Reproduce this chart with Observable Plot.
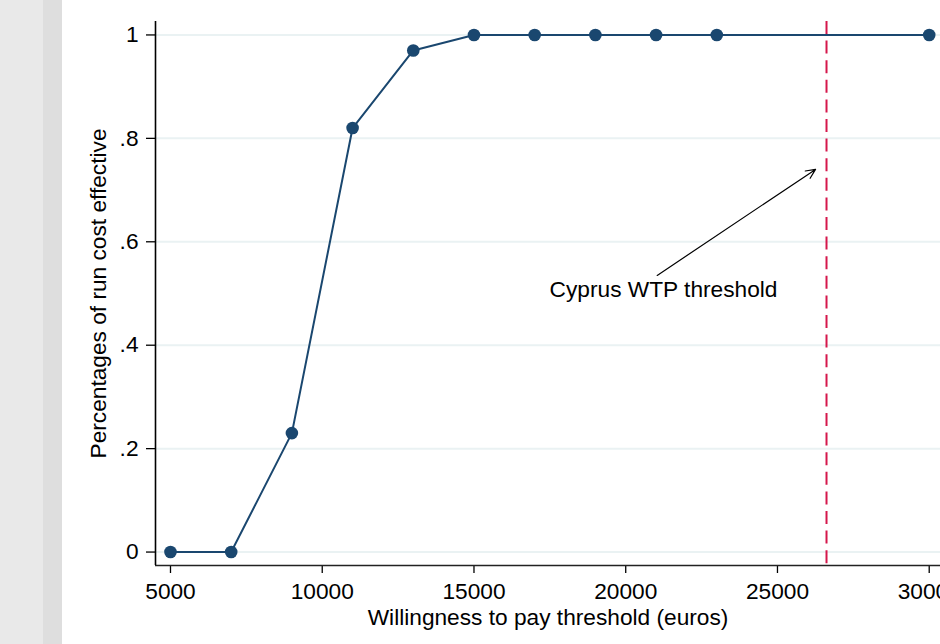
<!DOCTYPE html>
<html>
<head>
<meta charset="utf-8">
<script src="https://cdn.jsdelivr.net/npm/d3@7"></script>
<script src="https://cdn.jsdelivr.net/npm/@observablehq/plot@0.6"></script>
<style>
  html, body { margin: 0; padding: 0; overflow: hidden; }
  body {
    width: 940px; height: 644px;
    background: linear-gradient(to right, #e9e9e9 0px, #e9e9e9 43px, #dedede 43px, #dedede 62px, #ffffff 62px);
  }
  #chart svg { display: block; }
</style>
</head>
<body>
<div id="chart"></div>
<script>
// ---- data ----
const wtp = [5000, 7000, 9000, 11000, 13000, 15000, 17000, 19000, 21000, 23000, 30000];
const pctCostEffective = [0, 0, 0.23, 0.82, 0.97, 1, 1, 1, 1, 1, 1];
const xTicks = [5000, 10000, 15000, 20000, 25000, 30000];
const yTicks = [0, 0.2, 0.4, 0.6, 0.8, 1];
const yTickLabels = ["0", ".2", ".4", ".6", ".8", "1"];
const cyprusThreshold = [26616];
const annotationLabel = ["Cyprus WTP threshold"];
const annotationLabelX = [21245];
const annotationLabelY = [0.508];
const arrowStartX = [21037];
const arrowStartY = [0.535];
const arrowEndX = [26254];
const arrowEndY = [0.740];
const xTitle = "Willingness to pay threshold (euros)";
const yTitle = "Percentages of run cost effective";

const points = wtp.map((x, i) => ({x, y: pctCostEffective[i]}));
const arrows = arrowStartX.map((x1, i) => ({x1, y1: arrowStartY[i], x2: arrowEndX[i], y2: arrowEndY[i]}));
const labels = annotationLabel.map((t, i) => ({t, x: annotationLabelX[i], y: annotationLabelY[i]}));

const xDomain = [4506, 30372];
const yDomain = [-0.026, 1.026];
const navy = "#1a476f";

const chart = Plot.plot({
  width: 940,
  height: 644,
  marginTop: 21,
  marginBottom: 79,
  marginLeft: 155,
  marginRight: 0,
  style: {
    fontFamily: "'Liberation Sans', Arial, Helvetica, sans-serif",
    fontSize: "22.7px",
    background: "transparent",
    color: "#000",
    overflow: "visible"
  },
  x: {domain: xDomain},
  y: {domain: yDomain},
  marks: [
    Plot.gridY(yTicks, {stroke: "#eaf2f3", strokeOpacity: 1, strokeWidth: 2}),
    Plot.axisX(xTicks, {
      tickSize: 8, tickPadding: 9, tickFormat: d => String(d),
      label: xTitle, labelAnchor: "center", labelOffset: 59, labelArrow: "none",
      stroke: "#000", strokeWidth: 1.3
    }),
    Plot.axisY(yTicks, {
      tickSize: 9, tickPadding: 8, tickFormat: d => yTickLabels[yTicks.indexOf(d)],
      label: yTitle, labelAnchor: "center", labelOffset: 66, labelArrow: "none",
      stroke: "#000", strokeWidth: 1.3
    }),
    Plot.ruleY([yDomain[0]], {stroke: "#222", strokeWidth: 1.6}),
    Plot.ruleX([xDomain[0]], {stroke: "#000", strokeWidth: 1.6}),
    Plot.ruleX(cyprusThreshold, {stroke: "#d5174b", strokeWidth: 2, strokeDasharray: "13,6.6"}),
    Plot.line(points, {x: "x", y: "y", stroke: navy, strokeWidth: 2}),
    Plot.dot(points, {x: "x", y: "y", fill: navy, r: 6.3, stroke: "none"}),
    Plot.arrow(arrows, {x1: "x1", y1: "y1", x2: "x2", y2: "y2", stroke: "#000", strokeWidth: 1.2, headLength: 13, headAngle: 50}),
    Plot.text(labels, {x: "x", y: "y", text: "t", fontSize: 22.7, fill: "#000", textAnchor: "middle", lineAnchor: "middle"})
  ]
});
document.getElementById("chart").appendChild(chart);
</script>
</body>
</html>
